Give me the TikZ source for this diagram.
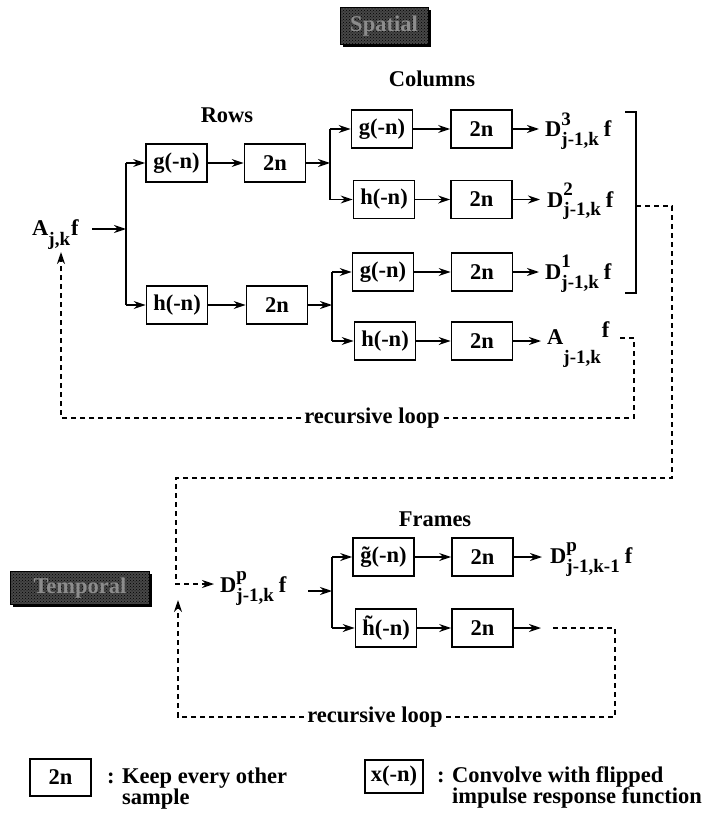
\documentclass[tikz,border=0pt]{standalone}
\usepackage{fontspec}
\setmainfont{Liberation Serif}
\usetikzlibrary{arrows.meta,patterns,shadows}
\newcommand\ssb[2]{\makebox[0pt][l]{\raisebox{0.5em}{\fontsize{19}{19}\selectfont #1}}\raisebox{-0.4em}{\fontsize{19}{19}\selectfont #2}}
\newcommand\sbl[2]{\raisebox{#1}{\fontsize{19}{19}\selectfont #2}}
\begin{document}
\begin{tikzpicture}[x=1pt,y=-1pt,
  every node/.style={font=\fontsize{22.5}{21}\selectfont\bfseries, inner sep=0pt},
  blk/.style={draw, line width=1.7pt, minimum width=61pt, minimum height=38pt},
  arr/.style={line width=1.5pt, -{Stealth[length=12pt,width=8pt]}},
  ln/.style={line width=1.5pt},
  dsh/.style={line width=1.3pt, dash pattern=on 5pt off 4pt},
  darr/.style={dsh, -{Stealth[length=12pt,width=8pt]}},
  hdr/.style={fill=black!72, postaction={pattern=crosshatch dots, pattern color=black},
    draw=black, line width=1pt,
    drop shadow={shadow xshift=2.5pt, shadow yshift=-2.5pt, fill=black, opacity=1},
    text=black!45},
  lbl/.style={anchor=base west}
]
\useasboundingbox (0,0) rectangle (703,813);

% headers
\node[hdr, minimum width=88pt, minimum height=37pt] (spat) at (384,26) {Spatial};
\node[hdr, minimum width=139pt, minimum height=33pt] (temp) at (80,588) {Temporal};

\node (rows) at (227,115) {Rows};
\node (cols) at (432,79) {Columns};
\node (frm) at (435,519) {Frames};

% rows stage
\node[lbl] (ajk) at (32,235) {A\sbl{-0.45em}{j,k}\hspace{1pt}f};
\node[blk] (rg) at (176.5,163) {g(-n)};
\node[blk] (r2a) at (275,163) {2n};
\node[blk] (rh) at (177,305) {h(-n)};
\node[blk] (r2b) at (277,305) {2n};

% columns stage
\node[blk] (c1g) at (382,129) {g(-n)};
\node[blk] (c1d) at (481.5,129) {2n};
\node[blk] (c2h) at (384,199.5) {h(-n)};
\node[blk] (c2d) at (481.5,199.5) {2n};
\node[blk] (c3g) at (383,272) {g(-n)};
\node[blk] (c3d) at (482,272) {2n};
\node[blk] (c4h) at (385,341) {h(-n)};
\node[blk] (c4d) at (482,341) {2n};

\node[lbl] (d3) at (545,137) {D\ssb{3}{j-1,k}\hspace{5pt}f};
\node[lbl] (d2) at (547,207) {D\ssb{2}{j-1,k}\hspace{5pt}f};
\node[lbl] (d1) at (545,279) {D\ssb{1}{j-1,k}\hspace{5pt}f};
\node[lbl] (a1) at (547,344) {A\sbl{-0.85em}{j-1,k}\hspace{1pt}\raisebox{0.3em}{f}};

% frames stage
\node[lbl] (dp) at (220,592) {D\ssb{p}{j-1,k}\hspace{5pt}f};
\node[blk] (fg) at (383.5,557) {\~g(-n)};
\node[blk] (fd) at (482.5,557) {2n};
\node[blk] (fh) at (386,628) {\~h(-n)};
\node[blk] (fd2) at (482.5,628) {2n};
\node[lbl] (dpk) at (550,563) {D\ssb{p}{j-1,k-1}\hspace{5pt}f};

% loop labels
\node[fill=white, inner xsep=3pt] (rl1) at (372,418) {recursive loop};
\node[fill=white, inner xsep=3pt] (rl2) at (375,717) {recursive loop};

% legend
\node[blk, minimum width=61pt, minimum height=37pt] (lg1) at (60.5,777.5) {2n};
\node[anchor=north west, align=left] (lt1) at (107,768) {: Keep every other\\\phantom{: }sample};
\node[blk, minimum width=58pt, minimum height=33pt] (lg2) at (394,776.5) {x(-n)};
\node[anchor=north west, align=left] (lt2) at (437,766) {: Convolve with flipped\\\phantom{: }impulse response function};

% coordinates
\coordinate (b0) at (126,229);
\coordinate (b1) at (330,163);
\coordinate (b2) at (332,305);
\coordinate (b3) at (332,591);

% rows connectors
\draw[arr] (92,229) -- (b0);
\draw[ln] (b0 |- rg.west) -- (b0 |- rh.west);
\draw[arr] (b0 |- rg.west) -- (rg.west);
\draw[arr] (b0 |- rh.west) -- (rh.west);
\draw[arr] (rg.east) -- (r2a.west);
\draw[arr] (rh.east) -- (r2b.west);
\draw[arr] (r2a.east) -- (b1);
\draw[arr] (r2b.east) -- (b2);

% column connectors
\draw[ln] (b1 |- c1g.west) -- (b1 |- c2h.west);
\draw[arr] (b1 |- c1g.west) -- (c1g.west);
\draw[arr] (b1 |- c2h.west) -- (c2h.west);
\draw[ln] (b2 |- c3g.west) -- (b2 |- c4h.west);
\draw[arr] (b2 |- c3g.west) -- (c3g.west);
\draw[arr] (b2 |- c4h.west) -- (c4h.west);
\draw[arr] (c1g.east) -- (c1d.west);
\draw[arr] (c2h.east) -- (c2d.west);
\draw[arr] (c3g.east) -- (c3d.west);
\draw[arr] (c4h.east) -- (c4d.west);
\draw[arr] (c1d.east) -- (539,129);
\draw[arr] (c2d.east) -- (540,199.5);
\draw[arr] (c3d.east) -- (539,272);
\draw[arr] (c4d.east) -- (541,341);

% bracket
\coordinate (bt) at (636,112);
\coordinate (bb) at (636,293);
\draw[ln] (625,112) -- (bt) -- (bb) -- (625,293);

% frames connectors
\draw[arr] (308,591) -- (b3);
\draw[ln] (b3 |- fg.west) -- (b3 |- fh.west);
\draw[arr] (b3 |- fg.west) -- (fg.west);
\draw[arr] (b3 |- fh.west) -- (fh.west);
\draw[arr] (fg.east) -- (fd.west);
\draw[arr] (fh.east) -- (fd2.west);
\draw[arr] (fd.east) -- (542,557);
\draw[arr] (fd2.east) -- (541,628);

% dashed loops
\draw[dsh] (620,338) -- (634,338) -- (634,418) -- (rl1.east);
\draw[darr] (rl1.west) -- (61,418) -- (61,252);
\draw[darr] (636,206) -- (672,206) -- (672,478) -- (176,478) -- (176,584) -- (214,584);
\draw[dsh] (553,628) -- (615,628) -- (615,717) -- (rl2.east);
\draw[darr] (rl2.west) -- (178,717) -- (178,600);
\end{tikzpicture}
\end{document}
